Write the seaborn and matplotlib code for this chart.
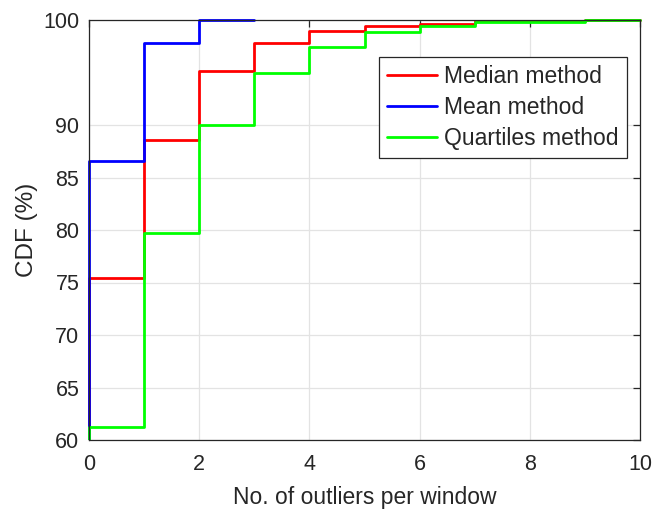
import matplotlib
matplotlib.use("Agg")
import matplotlib.pyplot as plt
from matplotlib.patches import Rectangle
import seaborn as sns
import pandas as pd

# Number of outliers per window and cumulative share (%) for each method
outliers = [0, 1, 2, 3, 4, 5, 6, 7, 8, 9, 10]
median_cdf = [75.4, 88.6, 95.1, 97.8, 98.95, 99.46, 99.62, 99.9, 99.9, 100.0, 100.0]
mean_outliers = [0, 1, 2, 3]
mean_cdf = [86.6, 97.8, 100.0, 100.0]
quartiles_cdf = [61.24, 79.7, 90.0, 95.0, 97.46, 98.83, 99.43, 99.78, 99.78, 100.0, 100.0]

series_names = ["Median method", "Mean method", "Quartiles method"]
series_colors = ["#ff0000", "#0000ff", "#00ff00"]

y_ticks = [60, 65, 70, 75, 80, 85, 90, 100]
x_ticks = [0, 2, 4, 6, 8, 10]


def cdf_frame(name, xs, ys):
    # start the step from zero so the curve rises from below the visible range
    return pd.DataFrame({"x": [xs[0]] + list(xs), "cdf": [0.0] + list(ys), "method": name})


df = pd.concat([
    cdf_frame(series_names[0], outliers, median_cdf),
    cdf_frame(series_names[1], mean_outliers, mean_cdf),
    cdf_frame(series_names[2], outliers, quartiles_cdf),
], ignore_index=True)

sns.set_style("white")
plt.rcParams["font.family"] = ["Liberation Sans", "DejaVu Sans"]

fig = plt.figure(figsize=(6.54, 5.12), dpi=100)
ax = fig.add_axes([89 / 654, 72 / 512, 551 / 654, 420 / 512])

sns.lineplot(data=df, x="x", y="cdf", hue="method", hue_order=series_names,
             palette=series_colors, estimator=None, sort=False,
             drawstyle="steps-post", linewidth=2.0, ax=ax)

# let the curves show their full width on the left and top edges
clip = Rectangle((-0.01, 0.0), 1.02, 1.01, transform=ax.transAxes)
for line in ax.get_lines():
    line.set_clip_path(clip)

ax.set_xlim(0, 10)
ax.set_ylim(60, 100)
ax.set_xticks(x_ticks)
ax.set_yticks(y_ticks)
ax.grid(True, color="#e3e3e3", linewidth=0.9)
ax.set_axisbelow(True)

dark = "#262626"
for sp in ax.spines.values():
    sp.set_color(dark)
    sp.set_linewidth(0.9)
ax.tick_params(direction="in", length=5, width=0.9, color=dark, labelcolor=dark,
               labelsize=15.5, top=True, right=True)
ax.tick_params(axis="x", pad=10)
ax.tick_params(axis="y", pad=7)

ax.set_xlabel("No. of outliers per window", fontsize=16.5, color=dark, labelpad=8)
ax.set_ylabel("CDF (%)", fontsize=17.5, color=dark, labelpad=4)

leg = ax.legend(loc="upper right", bbox_to_anchor=(0.976, 0.912), fontsize=16.5,
                frameon=True, fancybox=False, edgecolor=dark, framealpha=1,
                handlelength=2.2, handletextpad=0.3, borderpad=0.35,
                labelspacing=0.35, borderaxespad=0)
leg.get_frame().set_linewidth(0.9)
for line in leg.get_lines():
    line.set_linewidth(2.0)

fig.savefig("out.png", dpi=100)
